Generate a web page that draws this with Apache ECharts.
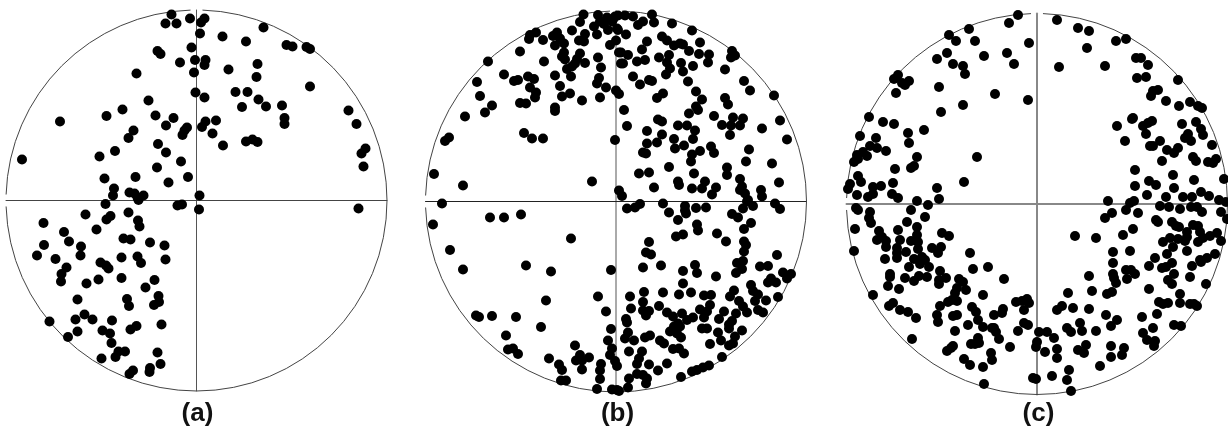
<!DOCTYPE html>
<html>
<head>
<meta charset="utf-8">
<style>html,body{margin:0;padding:0;background:#fff}#c{width:1228px;height:429px}</style>
<script src="https://cdn.jsdelivr.net/npm/echarts@6/dist/echarts.min.js"></script>
</head>
<body>
<div id="c"></div>
<script>
const panelLabels = ['(a)', '(b)', '(c)'];
const pointsA = [[-25,186],[-31,177],[-20,177],[-6.5,182],[-39,149.5],[-36,146.5],[-5,153],[-16.5,138],[-1.5,140.5],[-2.5,128],[-60,127],[-1,108],[-48,100],[-74,91],[-90,84.5],[-41,85],[-23,82.5],[-136.5,79],[-30.5,75],[-9.5,73],[-12,70],[-14,65.5],[-63,70],[-68,62.5],[-38.5,56.5],[-81.5,49.5],[-30.5,48],[-97,44],[-174.5,41],[-15.5,39],[-39.5,33],[-92,22],[-61,23.5],[-8.5,23.5],[-28,18],[-82.5,12],[-83.5,5],[-67,8],[-62,7],[-53,5],[-59,3],[-58,0.5],[-91,-3.5],
[8,182],[4.5,178],[3.5,167],[26,164],[67,173],[49.5,159],[90,155.5],[96,154],[110,153.5],[113.5,151.5],[9,140.5],[8,135.5],[32,131],[61,136.5],[60,123.5],[113.5,114],[39,108.5],[51,108.5],[8,103],[62,101],[45.5,93.5],[69.5,94],[85.5,95],[152,90],[88,82.5],[88,76.5],[160,76.5],[19.5,80],[9,79],[5.5,73.5],[16,67],[26.5,55],[49.5,59],[56,61],[61,58.5],[169,52],[165,47],[167,34],[3,5],[2.5,-9],[162,-8],
[-19,-5],[-14.5,-4],[-111,-14],[-68,-12],[-86,-15.5],[-90,-19],[-58.5,-20],[-57,-26],[-153,-22.5],[-100,-29],[-132.5,-31.5],[-73,-38],[-66,-39],[-127.5,-41],[-46.5,-42],[-32,-45],[-115.5,-46],[-152.5,-44.5],[-159.5,-55],[-116,-55],[-141,-58.5],[-75,-57],[-59,-56],[-55.5,-62.5],[-31,-59],[-96,-62],[-90.5,-65],[-88,-68],[-130,-67],[-135,-73.5],[-135.5,-81],[-110,-83],[-98,-79],[-75,-77.5],[-42,-79.5],[-51,-87],[-38,-95.5],[-37.5,-101.5],[-42.5,-104.5],[-69.5,-98.5],[-67.5,-105.5],[-119,-99],[-112,-114],[-121,-119],[-104,-119],[-84.5,-120],[-147,-121],[-35,-124],[-60,-125.5],[-66,-129],[-94,-130],[-86.5,-133],[-119,-131],[-128.5,-136.5],[-85,-142.5],[-71.5,-151],[-78,-151],[-81,-156.5],[-95,-158],[-39,-152],[-36,-163.5],[-46.5,-167.5],[-47,-171.5],[-63.5,-170],[-67,-173.5]];
const pointsB = [[-32.5,187],[-18,186.5],[-36,179.5],[-9,184],[-1,185],[-16,180],[-22,175],[-12,177.5],[-4,180],[-8,171.5],[1,173],[-19,167],[-44,171],[-31,167.5],[-37,161],[-32,160],[-80,169],[-86,166.5],[-87,162.5],[-73,161.5],[-59,169],[-63,165.5],[-56,163],[-52,158],[-61,156],[0,161],[-6,156.5],[-96,150],[-52,149],[-54,145],[-51,142],[-36,148],[-39,142.5],[-41,138],[-31,138.5],[-18,144],[3,149],[-72,140],[-128,140],[-44,135],[-49,132.5],[-15,134],[5,138],[-112,127],[-61,126],[-45,125],[-88,125],[-82,122.5],[-98,121.5],[-102,120.5],[-139,119.5],[-17,123.5],[-19,118],[-10,114],[-56,115.5],[-86,114],[-80,109],[-46,108],[-54,105],[-81,104],[-136,105.5],[-16,104],[0,111],[-34,101],[-96,98.5],[-90,98],[-124,96],[-131,89],[-61,94],[-61,90.5],[-151,85],[-167,64],[-171,60.5],[-92,68.5],[-84,63],[-73,63],[-1,61.5],[-182,27.5],[-153,16],[-24,20],[3,11],
[-3,182],[2,186],[9,186],[17,185],[36,187],[22,176.5],[27,180],[38,179],[56,178],[76,171],[2,171.5],[10,167],[31,160],[26,152],[46,165],[51,161],[58,156],[64,158],[67,157],[84,159],[73,150.5],[5,149],[12,146.5],[7,138],[21,140],[29,141.5],[43,144],[53,146.5],[51,139],[83,147.5],[93,147],[92,139],[116,150.5],[115,144],[119,146],[65,138.5],[77,135.5],[54,133],[67,130],[50,127],[109,132],[17,125],[24,117],[33,121.5],[36,120.5],[72,120],[128,120.5],[134,111],[3,107.5],[80,110],[47,108],[41,103.5],[86,102],[109,103.5],[112,97],[158,106],[82,91.5],[80,95],[8,91.5],[73,88],[98,85.5],[42,82],[46,80],[117,84],[127,83],[164,81],[62,76],[71,76],[11,75.5],[106,76.5],[115,76],[124,76],[146,73],[31,70.5],[79,71],[46,67],[58,62.5],[77,62.5],[114,66.5],[171,62],[41,59],[31,58],[68,56],[59,53],[95,55],[98,48.5],[133,52],[27,49],[30,48],[76,47],[84,50.5],[75,40],[130,40],[156,38],[53,34.5],[111,34],[111,26.5],[23,28],[33,29],[78,28],[124,22.5],[62,20],[63,16.5],[89,20],[163,19],[38,14],[76,13],[86,13],[100,14],[126,15],[124,11.5],[145,11.5],[129,8],[146,5],[96,7],[6,5.5],
[-174,-2],[-183,-23],[-126,-16],[-112,-16],[-95,-13],[-45,-37],[-166,-48.5],[-153,-68],[-90,-64],[-65,-70],[-5,-68.5],[-70,-99],[-18,-95],[-10,-110],[-140,-114],[-137,-115.5],[-124,-114.5],[-100,-115.5],[-75,-125.5],[-5,-127.5],[-110,-134],[-8,-139],[-41,-144],[-4,-147],[-103,-147],[-108,-148],[-98,-152.5],[-6,-153.5],[-36,-153.5],[-27,-156],[-67,-157],[-40,-159],[-34,-159],[-1,-159.5],[-15,-162.5],[-57,-163],[1,-164.5],[-54,-168.5],[-34,-168],[-16,-169],[-16,-177.5],[-55,-179],[-50,-179],[-19,-187.5],[-4,-188],[1,-188.5],
[47,-2],[24,-2.5],[19,-6],[11,-7],[69,-4.5],[69,-9],[70,-12],[80,-6.5],[90,-6],[53,-11],[62,-18.5],[131,0],[137,-4.5],[127,-7],[132,1.5],[159,-2],[164,-7.5],[116,-12.5],[122,-16],[135,-21.5],[128,-27.5],[81,-23],[82,-29],[101,-32],[67,-33],[60,-35],[110,-40],[33,-40.5],[128,-40],[130,-43.5],[128,-50],[30,-51],[35,-53],[161,-53.5],[127,-59.5],[121,-61.5],[27,-66],[45,-64],[79,-63.5],[67,-69.5],[81,-71.5],[126,-67.5],[120,-71.5],[144,-65],[152,-64.5],[100,-75],[167,-71],[175,-72.5],[171,-77],[67,-82],[155,-77],[152,-81],[160,-81],[135,-83.5],[137,-89.5],[118,-89],[114,-95],[47,-91],[28,-90.5],[75,-91],[63,-93],[88,-94],[95,-93.5],[14,-95],[142,-93],[162,-95.5],[123,-99.5],[139,-99.5],[150,-99],[27,-100.5],[94,-103.5],[127,-105],[15,-107],[43,-104.5],[84,-108],[142,-108.5],[27,-109],[33,-109.5],[51,-111],[91,-110],[108,-110],[131,-111],[147,-111],[30,-114],[66,-112],[120,-112],[57,-115],[77,-116],[88,-116],[10,-117.5],[11,-121],[103,-117.5],[71,-118.5],[62,-122],[116,-119.5],[113,-123],[58,-125],[64,-125],[86,-127],[91,-127],[113,-127],[126,-129],[54,-130],[61,-132],[102,-131],[12,-131],[34,-134],[29,-136],[65,-136],[119,-135],[9,-137],[105,-139],[18,-139],[44,-139],[48,-142],[94,-142.5],[117,-142],[113,-144],[57,-147.5],[63,-147],[68,-152],[13,-150],[26,-150],[23,-157],[106,-155.5],[21,-162.5],[33,-163],[51,-162],[42,-169],[93,-164],[87,-166],[81,-168.5],[76,-170],[21,-172.5],[27,-173.5],[31,-177],[30,-182],[13,-177],[65,-175.5],[12,-186],[3,-189.5]];
const pointsC = [[-19,189],[-28,181],[-68,175],[-88,169],[-81,163],[-62,163],[-8,161],[-30,151],[-53,148],[-90,151],[-100,145],[-23,140],[-84,140],[-74,138],[-72,130],[-139,129],[-143,125],[-128,123],[-135,121],[-132,119],[-98,117],[-141,111],[-42,110],[-9,104],[-74,99],[-96,92],[-168,87],[-154,82],[-143,80],[-113,74],[-129,71],[-177,68],[-161,66],[-128,61],[-167,58],[-160,56],[-151,53],[-174,52],[-180,49],[-170,48],[-179,45],[-183,42],[-120,47],[-60,47],[-123,38],[-126,36],[-142,35],[-179,28],[-176,22],[-144,21],[-73,22],[-187,20],[-189,15],[-156,18],[-164,17],[-100,16],[-180,9],[-164,10],[-169,7],[-145,10],[-139,6],[-98,5],[-120,3],
[20,184],[41,176],[52,173],[50,156],[79,163],[89,165],[22,137],[68,138],[99,146],[104,146],[111,139],[100,126],[109,127],[141,124],[121,114],[116,113],[114,108],[129,103],[153,102],[142,98],[161,98],[165,96],[96,86],[95,85],[115,83],[111,81],[106,78],[80,78],[145,80],[159,82],[164,75],[166,69],[109,70],[151,70],[148,66],[154,63],[123,63],[88,63],[175,59],[113,58],[116,58],[141,56],[130,54],[137,51],[156,47],[159,43],[179,45],[171,42],[176,41],[125,43],[98,34],[136,29],[187,25],[157,24],[112,23],[119,19],[98,18],[137,16],[164,12],[110,9],[129,7],[146,7],[155,7],[172,8],[182,4],[71,3],[97,3],
[-109,-1],[-181,-4],[-179,-6],[-126,-6],[-167,-8],[-168,-14],[-112,-13],[-130,-18],[-166,-19],[-120,-23],[-182,-25],[-139,-26],[-158,-27],[-95,-29],[-88,-32],[-120,-31],[-155,-33],[-160,-36],[-151,-37],[-137,-36],[-126,-37],[-119,-38],[-151,-43],[-96,-43],[-105,-44],[-140,-44],[-119,-45],[-183,-47],[-99,-49],[-131,-48],[-67,-49],[-140,-49],[-140,-54],[-152,-55],[-123,-55],[-115,-53],[-112,-56],[-117,-60],[-108,-63],[-128,-63],[-49,-63],[-64,-65],[-97,-67],[-147,-70],[-110,-73],[-118,-72],[-132,-74],[-33,-75],[-147,-73],[-123,-77],[-91,-74],[-78,-75],[-98,-76],[-98,-80],[-74,-78],[-149,-82],[-138,-85],[-80,-84],[-71,-86],[-82,-89],[-164,-91],[-54,-91],[-85,-96],[-80,-97],[-89,-98],[-10,-95],[-21,-98],[-15,-97],[-8,-99],[-144,-99],[-148,-102],[-97,-102],[-65,-103],[-13,-106],[-137,-106],[-129,-108],[-61,-108],[-34,-105],[-35,-109],[-43,-111],[-100,-111],[-84,-112],[-80,-111],[-121,-114],[-99,-118],[-59,-116],[-69,-121],[-13,-119],[-9,-121],[-54,-123],[-43,-124],[-45,-124],[-19,-127],[-82,-127],[2,-128],[-41,-128],[-38,-135],[-59,-134],[-125,-135],[-58,-139],[-62,-140],[-66,-140],[-84,-142],[-86,-144],[-90,-147],[0,-138],[-1,-143],[-27,-143],[-46,-149],[-45,-156],[-73,-155],[-67,-161],[-54,-163],[-4,-174],[-1,-175],[-53,-180],
[93,1],[89,-6],[101,-9],[75,-9],[68,-14],[123,-2],[132,-3],[143,-5],[154,-3],[160,-3],[165,-8],[189,2],[184,-8],[190,-15],[119,-16],[121,-18],[135,-18],[139,-22],[142,-23],[156,-21],[161,-22],[163,-28],[96,-25],[86,-31],[38,-32],[59,-34],[150,-28],[150,-33],[133,-34],[126,-38],[141,-35],[148,-37],[136,-43],[161,-38],[166,-34],[173,-32],[180,-29],[184,-37],[76,-48],[93,-47],[150,-47],[130,-50],[118,-54],[178,-50],[170,-54],[163,-56],[164,-58],[76,-59],[135,-59],[112,-62],[129,-63],[125,-64],[155,-62],[89,-66],[94,-66],[98,-70],[76,-70],[137,-70],[52,-72],[77,-74],[90,-75],[153,-73],[131,-76],[79,-79],[135,-80],[169,-80],[112,-85],[55,-87],[75,-88],[70,-90],[31,-89],[143,-90],[143,-99],[122,-98],[126,-100],[131,-99],[153,-100],[157,-100],[160,-102],[25,-102],[20,-106],[36,-104],[52,-105],[120,-110],[69,-111],[105,-113],[80,-116],[43,-119],[74,-122],[30,-124],[34,-128],[45,-127],[59,-127],[116,-124],[137,-121],[144,-122],[106,-129],[10,-128],[17,-134],[110,-136],[118,-137],[117,-142],[49,-141],[74,-142],[87,-144],[8,-148],[20,-145],[41,-146],[47,-149],[85,-151],[74,-153],[20,-154],[63,-162],[32,-166],[15,-172],[30,-176],[34,-187]];
const pointSets = [pointsA, pointsB, pointsC];

const frameRadius = 190.5;
const gridLefts = [6, 425.5, 846.5];
const gridTops = [10, 11, 13.5];
const labelCenters = [197.5, 617.5, 1038.5];
const crossColors = [['#444','#555'], ['#222','#aaa'], ['#888','#888']];
const crossWidths = [[1,1], [1,2], [2,2]];
const arcSpans = [[0,88.2],[91.8,178.2],[181.8,270],[270,360]];

const chart = echarts.init(document.getElementById('c'), null, {renderer:'canvas'});
const grid=[], xAxis=[], yAxis=[], series=[], title=[];
pointSets.forEach((pts,i)=>{
  grid.push({left:gridLefts[i], top:gridTops[i], width:frameRadius*2, height:frameRadius*2, containLabel:false});
  const mk = (k)=>({gridIndex:i, type:'value', min:-frameRadius, max:frameRadius,
    axisLine:{show:true,onZero:true,lineStyle:{color:crossColors[i][k],width:crossWidths[i][k]}},
    axisTick:{show:false}, axisLabel:{show:false}, splitLine:{show:false}});
  xAxis.push(mk(0)); yAxis.push(mk(1));
  series.push({type:'custom', xAxisIndex:i, yAxisIndex:i, silent:true, clip:false, z:1,
    data:arcSpans,
    renderItem:(params,api)=>{
      const c = api.coord([0,0]);
      const r = api.size([frameRadius,0])[0];
      const a0 = api.value(0), a1 = api.value(1);
      return {type:'arc', shape:{cx:c[0],cy:c[1],r:r,
        startAngle:-a1*Math.PI/180,endAngle:-a0*Math.PI/180,clockwise:true},
        style:{fill:null,stroke:'#444',lineWidth:1}};
    }});
  series.push({type:'scatter', xAxisIndex:i, yAxisIndex:i, data:pts, symbol:'circle', symbolSize:10,
    itemStyle:{color:'#000',opacity:1}, clip:false, silent:true, z:3, animation:false});
  title.push({text:panelLabels[i], left:labelCenters[i], top:400.5, textAlign:'center', padding:0,
    textStyle:{fontFamily:'Liberation Sans',fontWeight:'bold',fontSize:26,color:'#111'}});
});
chart.setOption({animation:false, backgroundColor:'#fff', grid, xAxis, yAxis, series, title});
</script>
</body>
</html>
